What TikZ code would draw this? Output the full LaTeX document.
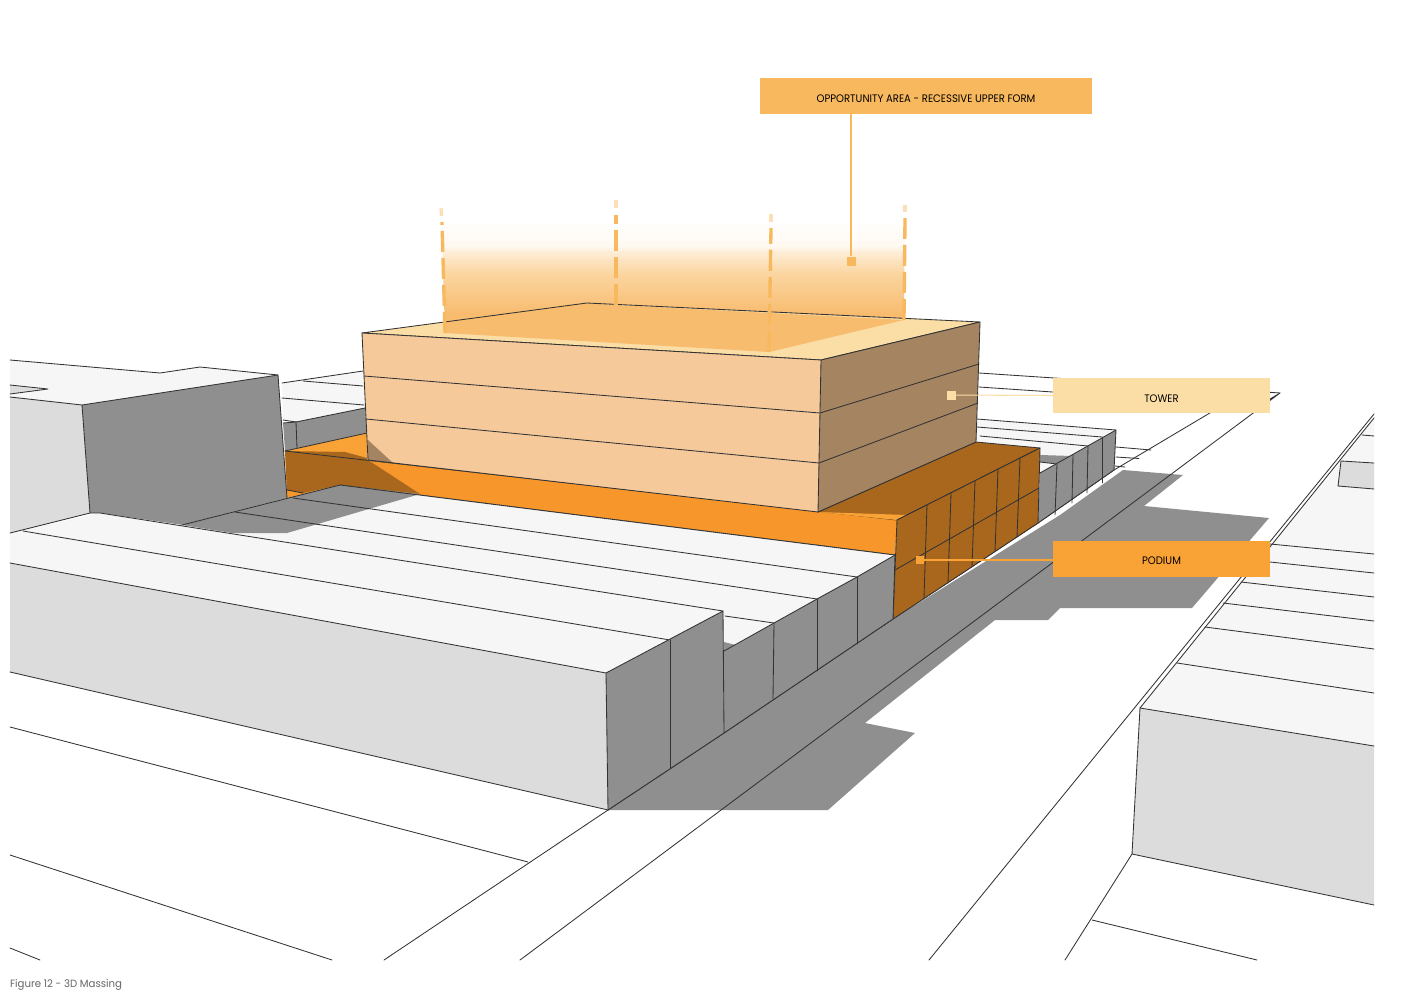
\documentclass[tikz,border=0pt]{standalone}
\usepackage{fontspec}
\setmainfont{Poppins}
\newfontfamily\calloutfont[FakeStretch=0.925]{Poppins}
\newfontfamily\captionfont[FakeStretch=0.965]{Poppins}
\definecolor{roofc}{HTML}{F6F6F6}
\definecolor{greyd}{HTML}{8F8F8F}
\definecolor{greyl}{HTML}{DCDCDC}
\definecolor{orangem}{HTML}{F7962B}
\definecolor{oranged}{HTML}{A9671E}
\definecolor{orangel}{HTML}{F9A235}
\definecolor{towerf}{HTML}{F5C99A}
\definecolor{towers}{HTML}{A58462}
\definecolor{towert}{HTML}{FBDDA6}
\definecolor{areac}{HTML}{F8B85E}
\definecolor{floorc}{HTML}{F8BC6F}
\definecolor{linec}{HTML}{333333}
\pgfdeclareverticalshading{plume}{100bp}{
 color(0bp)=(floorc); color(25bp)=(floorc); color(38bp)=(floorc);
 color(52bp)=(areac!58!white); color(59bp)=(areac!25!white); color(61bp)=(areac!9!white);
 color(70bp)=(white); color(100bp)=(white)}
\tikzset{
 edge/.style={draw=linec,line width=2.4pt,line join=round,line cap=round},
 callout/.style={minimum width=217mm,minimum height=36mm,inner sep=0pt,text=black,font=\calloutfont\fontsize{31}{33}\selectfont},
 marker/.style={minimum size=#1,inner sep=0pt},
 leader/.style={line width=3pt},
 dashline/.style={draw=areac,line width=9.5pt,dash pattern=on 60pt off 17pt},
 dashfade/.style={draw=areac!45!white,line width=9.5pt,dash pattern=on 22pt off 17pt}
}
\begin{document}
\begin{tikzpicture}[x=1mm,y=-1mm]
\useasboundingbox (0,0) rectangle (1411,1000);
\fill[white] (0,0) rectangle (1411,1000);
% street shadow
\fill[greyd] (608,810)--(828,810)--(915,733)--(865,723)--(995,620)--(1048,620)--(1060,608)--(1192,608)--(1269,518)--(1144,506)--(1183,475)--(1123,470)--(1060,515)--(893,619)--(724,733)--cycle;
% ground lines
\draw[edge] (608,810)--(384,960);
\draw[edge] (520,960)--(1280,393)--(1270,399);
\draw[edge] (608,810)--(724,733)--(893,619)--(1038,523)--(1114,470)--(1230,401);
\draw[edge] (10,727)--(528,862);
\draw[edge] (10,855)--(332,960);
\draw[edge] (10,948)--(40,960);
\draw[edge] (979,373)--(1280,393);
\draw[edge] (979,387)--(1060,392.5);
\draw[edge] (1116,447)--(1151,450);
\draw[edge] (1116,457)--(1139,458.5);
\draw[edge] (1115,466)--(1125,467);
% right-hand blocks
\draw[edge] (1374,414)--(929,960);
\fill[roofc] (1374,418)--(1140,708)--(1374,746)--cycle;
\draw[edge] (1374,418)--(1140,708);
\fill[greyl] (1341,461)--(1374,463)--(1374,489)--(1338,486)--cycle;
\draw[edge] (1374,463)--(1341,461)--(1338,486)--(1374,489);
\draw[edge] (1362,435)--(1374,436);
\draw[edge] (1270,544)--(1374,554);
\draw[edge] (1270,562)--(1374,573);
\draw[edge] (1241,582)--(1374,597);
\draw[edge] (1223,603)--(1374,621);
\draw[edge] (1205,627)--(1374,649);
\draw[edge] (1177,663)--(1374,693);
\fill[greyl] (1140,708)--(1374,746)--(1374,905)--(1132,854)--cycle;
\draw[edge] (1374,746)--(1140,708)--(1132,854)--(1374,905);
\draw[edge] (1132,854)--(1065,960);
\draw[edge] (1092,920)--(1257,960);
% back row, right of the podium
\fill[roofc] (977,419)--(1116,430)--(1040,473)--(1040,448)--(976,442)--cycle;
\fill[greyd] (1040,455)--(1072,456)--(1040,473)--cycle;
\fill[roofc] (1040,462)--(1057,464)--(1040,473)--cycle;
\draw[edge] (977,419)--(1116,430);
\draw[edge] (977,427)--(1102,437);
\draw[edge] (980,436)--(1088,446);
\draw[edge] (1040,462)--(1057,464);
\fill[greyd] (1040,473)--(1116,430)--(1114,470)--(1038,523)--cycle;
\draw[edge] (1040,473)--(1116,430)--(1114,470)--(1038,523);
\draw[edge] (1102,437)--(1102,483);
\draw[edge] (1088,446)--(1087,493);
\draw[edge] (1073,455)--(1072,503);
\draw[edge] (1057,464)--(1055,515);
% behind the podium, left
\fill[roofc] (282,383)--(363,371)--(365,408)--(296,422)--(283,421)--cycle;
\draw[edge] (282,383)--(363,371);
\draw[edge] (303,381)--(363,386);
\draw[edge] (282,398)--(364,405);
\draw[edge] (283,420)--(296,422);
\fill[greyd] (283,423)--(296,422)--(365,408)--(367,433)--(285,451)--cycle;
\draw[edge] (296,422)--(365,408);
\draw[edge] (296,422)--(297,448);
\draw[edge] (283,423)--(296,422);
% podium
\fill[orangel] (285,451)--(367,433)--(367,460)--cycle;
\fill[oranged] (285,451)--(345,452)--(367,458)--(367,461)--cycle;
\draw[edge] (285,451)--(367,433);
\fill[orangem] (285,451)--(897,520)--(895,555)--(340,485)--(287,498)--cycle;
\fill[oranged] (285,451)--(368,460)--(420,494)--(340,485)--(303,493)--(287,490)--cycle;
\draw[edge] (285,451)--(897,520);
\draw[edge] (340,485)--(895,555);
\draw[edge] (287,490)--(303,493);
\fill[oranged] (818,512)--(976,442)--(1040,448)--(897,520)--cycle;
\fill[orangel] (818,512)--(907,515)--(897,520)--cycle;
\draw[edge] (818,512)--(976,442)--(1040,448)--(897,520);
\fill[oranged] (897,520)--(1040,448)--(1038,523)--(893,619)--cycle;
\draw[edge] (897,520)--(1040,448)--(1038,523)--(893,619)--cycle;
\draw[edge] (927,505)--(924,598);
\draw[edge] (951,493)--(948,583);
\draw[edge] (975,481)--(972,567);
\draw[edge] (998,469)--(995,552);
\draw[edge] (1020,458)--(1017,537);
\draw[edge] (895,570)--(1039,488);
% tall left block
\fill[roofc] (10,360)--(160,373)--(200,367)--(278,375)--(82,405)--(10,397)--cycle;
\draw[edge] (10,360)--(160,373)--(200,367)--(278,375);
\fill[greyl] (10,385)--(48,389)--(10,394)--cycle;
\draw[edge] (10,385)--(48,389)--(10,394);
\fill[greyl] (10,397)--(82,405)--(90,513)--(10,533)--cycle;
\draw[edge] (10,397)--(82,405);
\fill[greyd] (82,405)--(278,375)--(287,498)--(182,525)--(100,513)--(90,513)--cycle;
\draw[edge] (90,513)--(82,405)--(278,375)--(287,498);
% foreground block
\fill[roofc] (10,533)--(100,513)--(182,525)--(287,498)--(340,485)--(895,555)--(857,577)--(817,599)--(774,623)--(725,651)--(723,611)--(606,673)--(10,563)--cycle;
\fill[greyd] (182,525)--(287,498)--(340,485)--(420,494)--(287,533)--(232,533)--cycle;
\draw[edge] (10,533)--(90,513)--(100,513)--(723,611);
\draw[edge] (182,525)--(340,485)--(895,555);
\draw[edge] (293,498)--(857,577);
\draw[edge] (235,512)--(817,599);
\draw[edge] (725,616)--(774,623);
\draw[edge] (23,531)--(670,640);
\fill[greyd] (724,642)--(736,645)--(724,651)--cycle;
\fill[greyl] (10,563)--(606,673)--(608,810)--(10,672)--cycle;
\draw[edge] (10,563)--(606,673);
\draw[edge] (10,672)--(608,810);
\fill[greyd] (606,673)--(723,611)--(724,733)--(608,810)--cycle;
\fill[greyd] (724,651)--(774,623)--(817,599)--(857,577)--(895,555)--(893,619)--(724,733)--cycle;
\draw[edge] (608,810)--(606,673)--(723,611)--(724,733);
\draw[edge] (724,651)--(774,623)--(817,599)--(857,577)--(895,555)--(893,619)--(724,733)--(608,810);
\draw[edge] (670,640)--(670,768);
\draw[edge] (774,623)--(773,699);
\draw[edge] (817,599)--(817,671);
\draw[edge] (857,577)--(857,644);
% plume above the tower
\path[shading=plume] (441,205)--(616,205)--(905,205)--(904,320)--(769,352)--(445,333)--cycle;
% tower
\fill[towert] (362,333)--(587,303)--(980,322)--(821,360)--cycle;
\fill[floorc] (445,333)--(445,322)--(587,303)--(616,305)--(904,320)--(769,352)--cycle;
\draw[edge] (362,333)--(587,303)--(980,322)--(821,360)--cycle;
\fill[towerf] (362,333)--(821,360)--(818,512)--(368,460)--cycle;
\fill[towers] (368,440)--(393,463)--(368,460)--cycle;
\fill[towers] (821,360)--(980,322)--(976,442)--(818,512)--cycle;
\draw[edge] (362,333)--(821,360)--(980,322)--(976,442)--(818,512)--(821,360);
\draw[edge] (362,333)--(368,460)--(818,512);
\draw[edge] (364,376)--(820,413)--(979,364);
\draw[edge] (366,419)--(819,463)--(978,403);
% dashed verticals
\draw[dashline] (445,333)--(442,222);
\draw[dashline] (616,305)--(616,215);
\draw[dashline] (769,352)--(771,228);
\draw[dashline] (904,320)--(905,218);
\draw[dashfade] (441.5,216)--(441,207);
\draw[dashfade] (616,208)--(616,200);
\draw[dashfade] (771,222)--(771,214);
\draw[dashfade] (905,212)--(905,205);
% callouts
\node[callout,fill=areac,minimum width=332mm] (oppbox) at (926,96) {\raisebox{-3mm}[\height][\depth]{OPPORTUNITY AREA - RECESSIVE UPPER FORM}};
\node[callout,fill=towert,minimum height=35mm] (towerbox) at (1161.5,395.5) {\raisebox{-3.5mm}[\height][\depth]{TOWER}};
\node[callout,fill=orangel] (podiumbox) at (1161.5,559) {\raisebox{-2mm}[\height][\depth]{PODIUM}};
\node[marker=9mm,fill=areac] (oppmark) at (851,261) {};
\node[marker=9mm,fill=towert] (towermark) at (951,395) {};
\node[marker=8mm,fill=orangel] (podiummark) at (920,560) {};
\draw[leader,areac] (oppbox.south -| oppmark) -- (oppmark);
\draw[leader,towert] (towerbox.west) -- (towermark);
\draw[leader,orangel] (podiumbox.west |- podiummark) -- (podiummark);
\node[anchor=base west,inner sep=0pt,text=black!60,font=\captionfont\fontsize{30}{32}\selectfont] (caption) at (10,987) {Figure 12 - 3D Massing};
\end{tikzpicture}
\end{document}
